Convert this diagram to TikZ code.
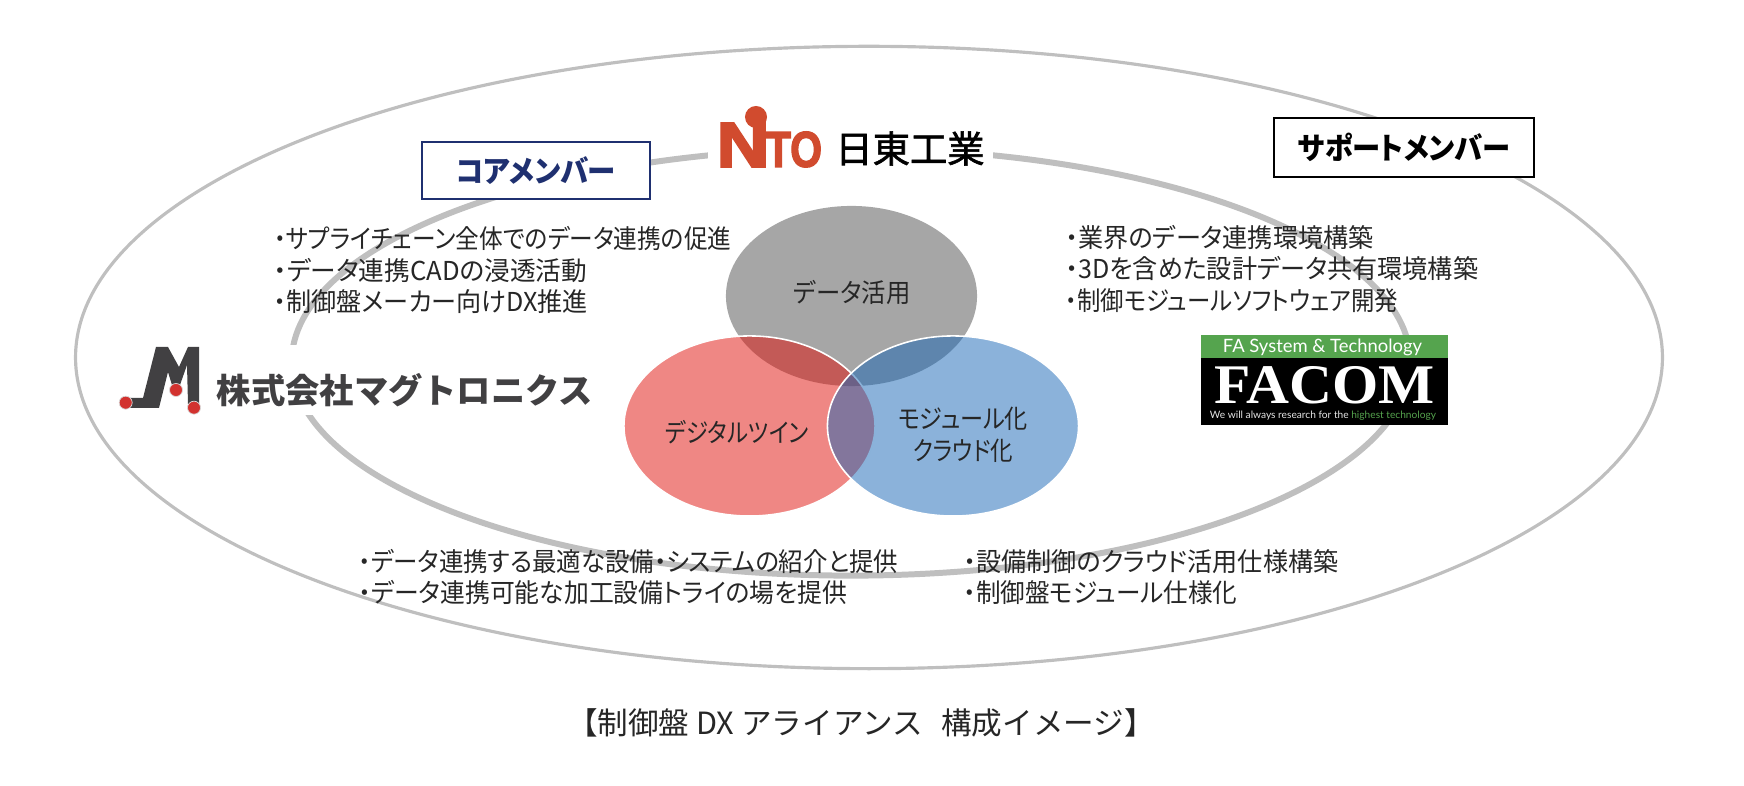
\documentclass[tikz,border=0pt]{standalone}
\usepackage{fontspec}
\setmainfont[RawFeature={+palt}]{Noto Sans CJK JP}
\newfontfamily\fullfont{Noto Sans CJK JP}
\newfontfamily\namefont[FakeBold=1.6]{Noto Sans CJK JP}
\newfontfamily\logofont[BoldFeatures={FakeBold=3}]{Liberation Sans}
\newfontfamily\facomfont{Liberation Serif}
\newfontfamily\tagfont{Lato}
\usetikzlibrary{shapes.geometric}
\definecolor{ringgray}{HTML}{BFBFBF}
\definecolor{navy}{HTML}{1F3070}
\definecolor{nitored}{HTML}{D14B2E}
\definecolor{magdark}{HTML}{414042}
\definecolor{magred}{HTML}{D2322F}
\definecolor{facgreen}{HTML}{55A44E}
\definecolor{vgray}{HTML}{A6A6A6}
\definecolor{vred}{HTML}{E0100A}
\definecolor{vblue}{HTML}{1766B5}
\newcommand{\squeeze}[2]{\scalebox{#1}[1]{#2}}
\begin{document}
\begin{tikzpicture}[
	x=0.01cm, y=-0.01cm,
	ring/.style={ellipse, draw=ringgray, inner sep=0},
	venn/.style={ellipse, minimum width=2.51cm, minimum height=1.8cm, inner sep=0},
	member/.style={draw, fill=white, line width=0.6pt, minimum width=2.28cm, minimum height=0.57cm, inner sep=0, font=\fontsize{8.6}{10}\selectfont\bfseries},
	body/.style={inner sep=0, align=left, anchor=west, text=black!85, font=\fontsize{7.4}{8.96}\selectfont},
	label/.style={inner sep=0, align=center, text=black!85, font=\fontsize{7.4}{9}\selectfont},
	dot/.style={circle, fill=magred, draw=black!15, line width=0.2pt, minimum size=0.13cm, inner sep=0}
	]
	\useasboundingbox (0,0) rectangle (1744,786);
	\node[ring, line width=0.9pt, minimum width=15.86cm, minimum height=6.22cm] (outer) at (869,357.5) {};
	\node[ring, line width=1.7pt, minimum width=11.18cm, minimum height=4.27cm] (inner) at (851,362) {};
	\fill[white] (708,110) rectangle (993,190);
	\fill[white] (110,345) rectangle (600,415);
	\node[venn, fill=vgray] (data) at (851.5,296) {};
	\node[venn, fill=vred, fill opacity=.5, draw=white, draw opacity=1, line width=0.45pt] (twin) at (749.5,426) {};
	\node[venn, fill=vblue, fill opacity=.5, draw=white, draw opacity=1, line width=0.45pt] (module) at (953,426) {};
	\node[label] (datatext) at (852,293) {\squeeze{.936}{データ活用}};
	\node[label] (twintext) at (737,432) {\squeeze{.86}{デジタルツイン}};
	\node[label] (moduletext) at (963,435) {\squeeze{.89}{モジュール化}\\\squeeze{.865}{クラウド化}};
	\node[member, draw=navy, text=navy] (core) at (536,170.5) {\squeeze{.94}{コアメンバー}};
	\node[member, minimum width=2.6cm, minimum height=0.59cm] (support) at (1404,147.5) {\squeeze{.936}{サポートメンバー}};
	\node[body] (coretext) at (273.5,270) {\squeeze{.91}{・サプライチェーン全体でのデータ連携の促進}\\\squeeze{.986}{・データ連携CADの浸透活動}\\\squeeze{.965}{・制御盤メーカー向けDX推進}};
	\node[body] (supporttext) at (1065,269) {\squeeze{.965}{・業界のデータ連携環境構築}\\\squeeze{.966}{・3Dを含めた設計データ共有環境構築}\\\squeeze{.90}{・制御モジュールソフトウェア開発}};
	\node[body] (lefttext) at (358,577) {\squeeze{.94}{・データ連携する最適な設備・システムの紹介と提供}\\\squeeze{.954}{・データ連携可能な加工設備トライの場を提供}};
	\node[body] (righttext) at (963,577) {\squeeze{.965}{・設備制御のクラウド活用仕様構築}\\\squeeze{.945}{・制御盤モジュール仕様化}};
	\node[inner sep=0, text=nitored] (nito) at (743,145) {\resizebox{0.53cm}{0.44cm}{\logofont\bfseries N\kern-.28em I}};
	\node[inner sep=0, text=nitored] (nitoend) at (794,149.5) {\resizebox{0.56cm}{0.35cm}{\logofont\bfseries TO}};
	\node[circle, fill=nitored, minimum size=0.22cm, inner sep=0] (nitodot) at (756,117) {};
	\node[inner sep=0, font=\fontsize{10.6}{12}\selectfont\namefont] (nitoname) at (910,148.5) {日東工業};
	\fill[magdark] (127,398) -- (143,398) -- (156,347) -- (168,347) -- (179,367) -- (188,347) -- (199,347) -- (199,404) -- (188,404) -- (187,365) -- (180,385) -- (172,385) -- (168,372) -- (159,408) -- (127,408) -- cycle;
	\node[dot] (magleft) at (125.7,402.7) {};
	\node[dot] (magmid) at (176,390) {};
	\node[dot] (magright) at (194,407.7) {};
	\node[inner sep=0, text=magdark, font=\fontsize{9.75}{12}\selectfont\fullfont\bfseries] (magname) at (405,390) {株式会社マグトロニクス};
	\fill[black] (1200.7,357) rectangle (1448,425);
	\node[fill=facgreen, minimum width=2.473cm, minimum height=0.227cm, inner sep=0] (facombar) at (1324.35,346.3) {};
	\node[inner sep=0, text=white] (facomtop) at (1322.5,347) {\resizebox{1.99cm}{!}{\tagfont FA System \& Technology}};
	\node[inner sep=0, text=white] (facom) at (1325,385) {\resizebox{2.2cm}{0.37cm}{\facomfont\bfseries FACOM}};
	\node[inner sep=0, text=white!90!black] (facomtag) at (1323,416) {\resizebox{2.26cm}{!}{\tagfont We will always research for the \textcolor{facgreen}{highest technology}}};
	\node[inner sep=0, font=\fontsize{8.7}{10}\selectfont\fullfont, text=black!85] (title) at (861,723) {【制御盤 DX アライアンス\hspace{0.6em}構成イメージ】};
\end{tikzpicture}
\end{document}
